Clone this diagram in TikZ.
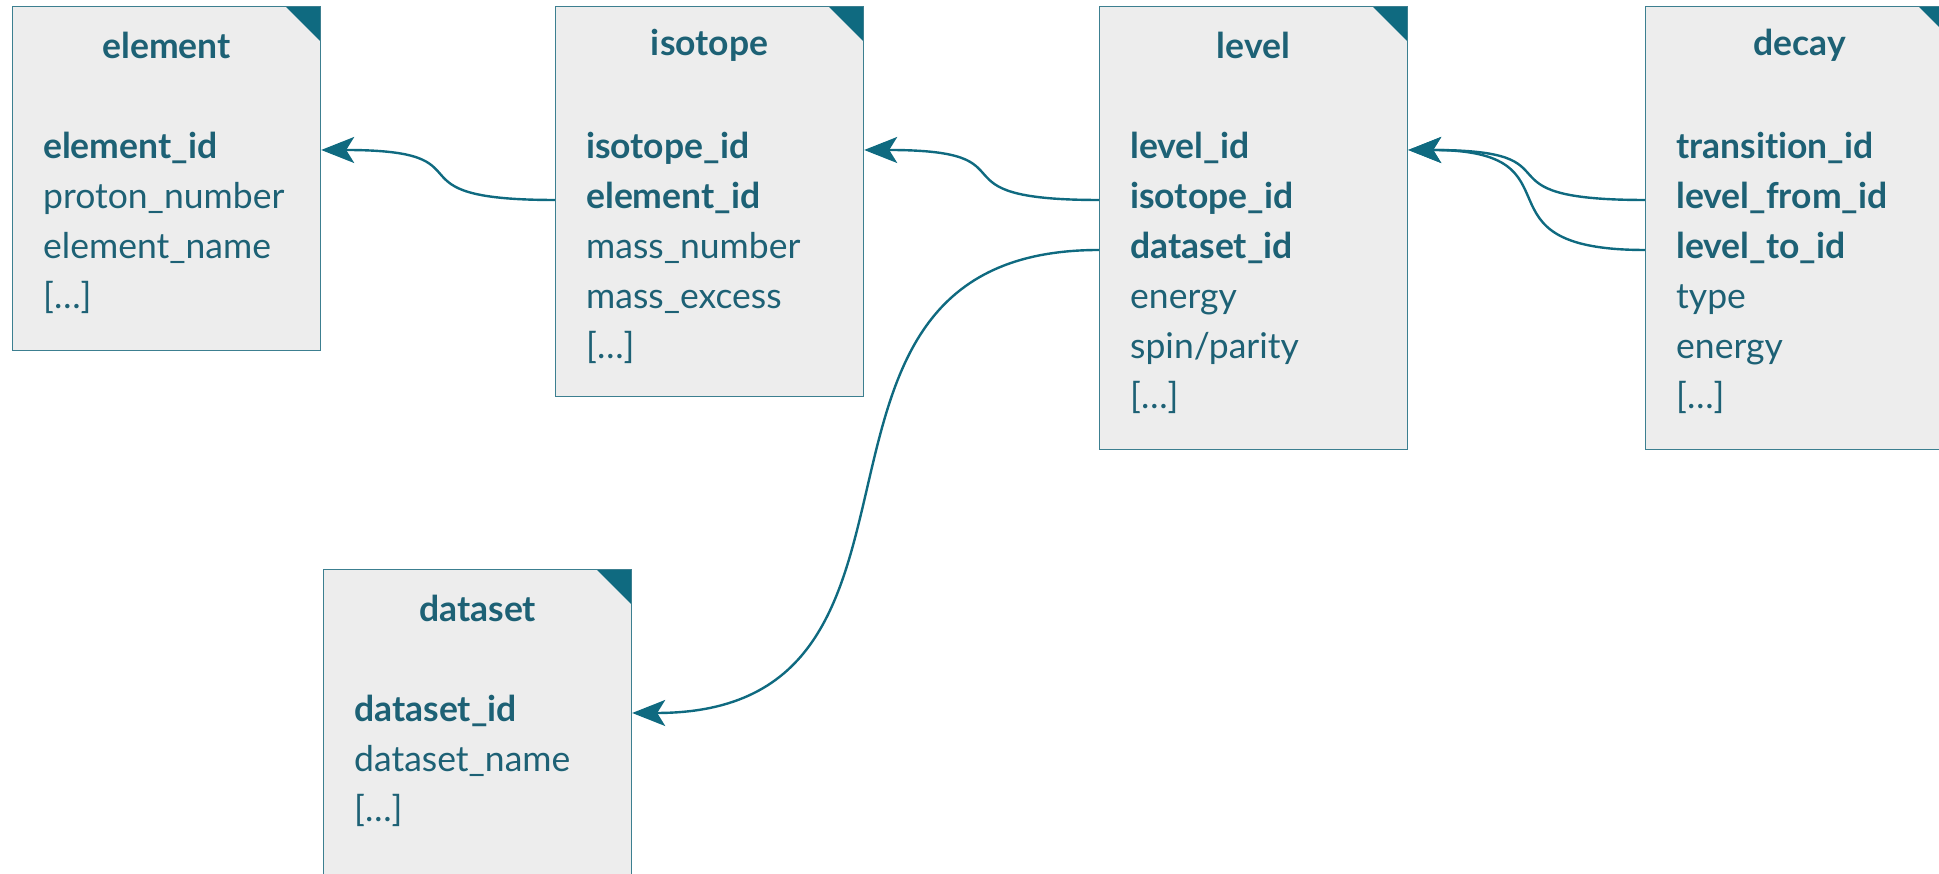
\documentclass[tikz,border=0pt]{standalone}
\usepackage{fontspec}
\setmainfont{Lato}[Ligatures=NoCommon]
\usetikzlibrary{arrows.meta,positioning}

\definecolor{dbteal}{HTML}{0F6A80}
\definecolor{dbtext}{HTML}{1D6175}
\definecolor{dbline}{HTML}{3C7F90}
\definecolor{dbfill}{HTML}{EDEDED}
\newcommand{\dbfont}{\fontsize{35.5}{42}\selectfont}

\tikzset{
  table/.style={draw=dbline, line width=1.2pt, fill=dbfill, anchor=north west,
    minimum width=308pt, inner sep=0pt,
    path picture={\fill[dbteal] ([xshift=-35pt]path picture bounding box.north east)
      -- (path picture bounding box.north east)
      -- ([yshift=-35pt]path picture bounding box.north east) -- cycle;}},
  title/.style={text=dbtext, font=\dbfont\bfseries},
  field/.style={text=dbtext, font=\dbfont, anchor=west, inner sep=0pt,
    text height=26pt, text depth=9pt},
  key/.style={field, font=\dbfont\bfseries},
  link/.style={draw=dbteal, line width=2.4pt,
    -{Stealth[length=33pt,width=26pt,inset=8pt]}}
}

\begin{document}
\begin{tikzpicture}[x=1pt,y=1pt]
  \useasboundingbox (0,0) rectangle (1939,874);
  \clip (0,0) rectangle (1939,874);

  % element
  \node[table, minimum height=344pt] (element) at (12,868) {};
  \node[title] (element-t) at ([yshift=-39pt]element.north) {element};
  \node[key] (element-1) at ([xshift=31pt,yshift=-144pt]element.north west) {element\_id};
  \node[field] (element-2) at ([yshift=-50pt]element-1.west) {proton\_number};
  \node[field] (element-3) at ([yshift=-50pt]element-2.west) {element\_name};
  \node[field] (element-4) at ([yshift=-50pt]element-3.west) {[…]};

  % isotope
  \node[table, minimum height=390pt] (isotope) at (555,868) {};
  \node[title] (isotope-t) at ([yshift=-39pt]isotope.north) {isotope};
  \node[key] (isotope-1) at ([xshift=31pt,yshift=-144pt]isotope.north west) {isotope\_id};
  \node[key] (isotope-2) at ([yshift=-50pt]isotope-1.west) {element\_id};
  \node[field] (isotope-3) at ([yshift=-50pt]isotope-2.west) {mass\_number};
  \node[field] (isotope-4) at ([yshift=-50pt]isotope-3.west) {mass\_excess};
  \node[field] (isotope-5) at ([yshift=-50pt]isotope-4.west) {[…]};

  % level
  \node[table, minimum height=443pt] (level) at (1099,868) {};
  \node[title] (level-t) at ([yshift=-39pt]level.north) {level};
  \node[key] (level-1) at ([xshift=31pt,yshift=-144pt]level.north west) {level\_id};
  \node[key] (level-2) at ([yshift=-50pt]level-1.west) {isotope\_id};
  \node[key] (level-3) at ([yshift=-50pt]level-2.west) {dataset\_id};
  \node[field] (level-4) at ([yshift=-50pt]level-3.west) {energy};
  \node[field] (level-5) at ([yshift=-50pt]level-4.west) {spin/parity};
  \node[field] (level-6) at ([yshift=-50pt]level-5.west) {[…]};

  % decay
  \node[table, minimum height=443pt] (decay) at (1645,868) {};
  \node[title] (decay-t) at ([yshift=-39pt]decay.north) {decay};
  \node[key] (decay-1) at ([xshift=31pt,yshift=-144pt]decay.north west) {transition\_id};
  \node[key] (decay-2) at ([yshift=-50pt]decay-1.west) {level\_from\_id};
  \node[key] (decay-3) at ([yshift=-50pt]decay-2.west) {level\_to\_id};
  \node[field] (decay-4) at ([yshift=-50pt]decay-3.west) {type};
  \node[field] (decay-5) at ([yshift=-50pt]decay-4.west) {energy};
  \node[field] (decay-6) at ([yshift=-50pt]decay-5.west) {[…]};

  % dataset
  \node[table, minimum height=340pt] (dataset) at (323,305) {};
  \node[title] (dataset-t) at ([yshift=-39pt]dataset.north) {dataset};
  \node[key] (dataset-1) at ([xshift=31pt,yshift=-144pt]dataset.north west) {dataset\_id};
  \node[field] (dataset-2) at ([yshift=-50pt]dataset-1.west) {dataset\_name};
  \node[field] (dataset-3) at ([yshift=-50pt]dataset-2.west) {[…]};

  % foreign keys
  \draw[link] (isotope.west |- isotope-2) to[out=180,in=0,looseness=1.9] (element.east |- element-1);
  \draw[link] (level.west |- level-2) to[out=180,in=0,looseness=1.9] (isotope.east |- isotope-1);
  \draw[link] (decay.west |- decay-2) to[out=180,in=0,looseness=1.9] (level.east |- level-1);
  \draw[link] (decay.west |- decay-3) to[out=180,in=0,looseness=1.8] (level.east |- level-1);
  \draw[link] (level.west |- level-3) to[out=180,in=0,looseness=1.35] (dataset.east |- dataset-1);
\end{tikzpicture}
\end{document}
